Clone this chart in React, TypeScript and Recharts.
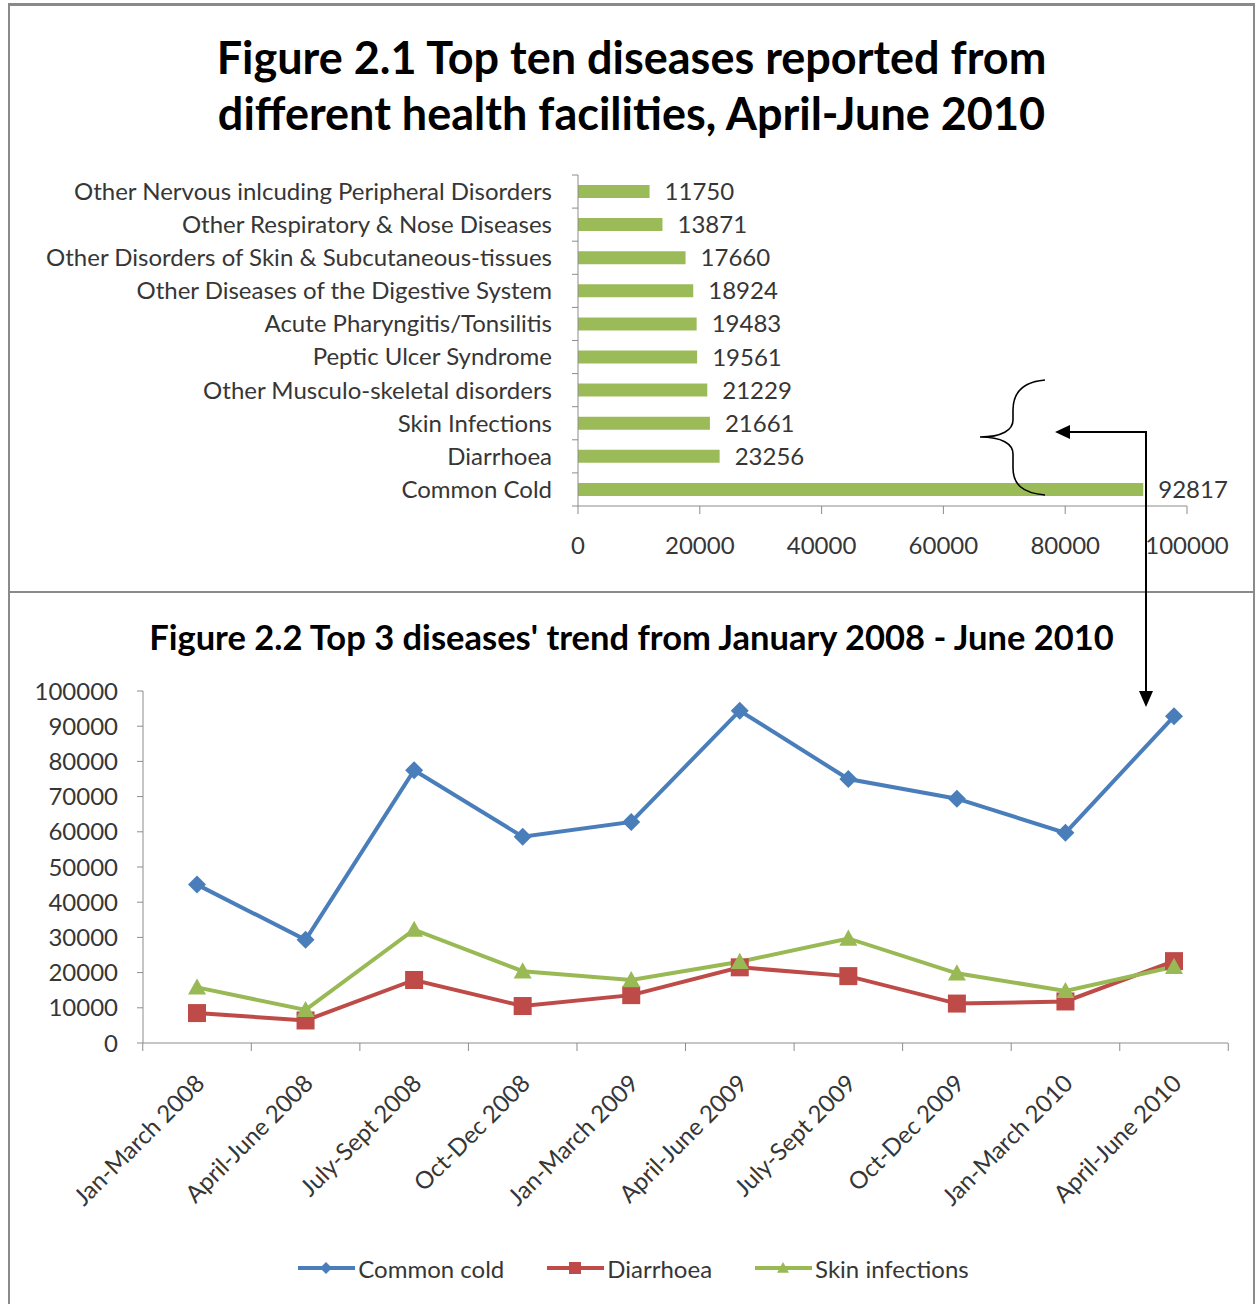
import React from 'react';
import {
  BarChart,
  Bar,
  XAxis,
  YAxis,
  LabelList,
  LineChart,
  Line,
  Legend,
} from 'recharts';

// Figure 2.1 - cases reported April-June 2010
const diseases = [
  'Other Nervous inlcuding Peripheral Disorders',
  'Other Respiratory & Nose Diseases',
  'Other Disorders of Skin & Subcutaneous-tissues',
  'Other Diseases of the Digestive System',
  'Acute Pharyngitis/Tonsilitis',
  'Peptic Ulcer Syndrome',
  'Other Musculo-skeletal disorders',
  'Skin Infections',
  'Diarrhoea',
  'Common Cold',
];
const cases = [11750, 13871, 17660, 18924, 19483, 19561, 21229, 21661, 23256, 92817];
const caseTicks = [0, 20000, 40000, 60000, 80000, 100000];

// Figure 2.2 - quarterly trend of the top 3
const quarters = [
  'Jan-March 2008',
  'April-June 2008',
  'July-Sept 2008',
  'Oct-Dec 2008',
  'Jan-March 2009',
  'April-June 2009',
  'July-Sept 2009',
  'Oct-Dec 2009',
  'Jan-March 2010',
  'April-June 2010',
];
const commonCold = [45000, 29300, 77500, 58600, 62800, 94400, 75000, 69400, 59700, 92817];
const diarrhoea = [8500, 6400, 17900, 10500, 13600, 21500, 19000, 11200, 11800, 23256];
const skinInfections = [15800, 9400, 32200, 20400, 17900, 23100, 29700, 19800, 14800, 21661];
const trendTicks = [0, 10000, 20000, 30000, 40000, 50000, 60000, 70000, 80000, 90000, 100000];

const topData = diseases.map((name, i) => ({ name, cases: cases[i] }));
const trendData = quarters.map((quarter, i) => ({
  quarter,
  cold: commonCold[i],
  diarrhoea: diarrhoea[i],
  skin: skinInfections[i],
}));

const FONT = 'Lato, "Open Sans", sans-serif';
const TEXT = '#363636';
const AXIS = '#8c8c8c';
const FRAME = '#8a8a8a';
const BLUE = '#4a7ebb';
const RED = '#be4b48';
const GREEN = '#98b954';
const BAR_GREEN = '#9bbb59';
const FS = 24;

const BAR_BAND = 33.1;
const QUARTER_BAND = 108.5;

type Shape = 'diamond' | 'square' | 'triangle';

const Marker = ({ cx, cy, shape, color, r }: { cx: number; cy: number; shape: Shape; color: string; r: number }) => {
  if (shape === 'diamond') {
    return <path d={`M${cx},${cy - r} L${cx + r},${cy} L${cx},${cy + r} L${cx - r},${cy} Z`} fill={color} />;
  }
  if (shape === 'square') {
    return <rect x={cx - r} y={cy - r} width={r * 2} height={r * 2} fill={color} />;
  }
  return <path d={`M${cx},${cy - r} L${cx + r},${cy + r * 0.8} L${cx - r},${cy + r * 0.8} Z`} fill={color} />;
};

const series: { key: string; name: string; color: string; shape: Shape }[] = [
  { key: 'cold', name: 'Common cold', color: BLUE, shape: 'diamond' },
  { key: 'diarrhoea', name: 'Diarrhoea', color: RED, shape: 'square' },
  { key: 'skin', name: 'Skin infections', color: GREEN, shape: 'triangle' },
];

const DiseaseTick = (props: any) => {
  const { x, y, payload, index } = props;
  const half = BAR_BAND / 2;
  return (
    <g>
      <line x1={x - 6} y1={y - half} x2={x} y2={y - half} stroke={AXIS} />
      {index === diseases.length - 1 && <line x1={x - 6} y1={y + half} x2={x} y2={y + half} stroke={AXIS} />}
      <text x={x - 26} y={y} dy="0.35em" textAnchor="end" fill={TEXT} fontSize={FS} fontFamily={FONT}>
        {payload.value}
      </text>
    </g>
  );
};

const QuarterTick = (props: any) => {
  const { x, y, payload, index } = props;
  const half = QUARTER_BAND / 2;
  const tx = x + 9;
  const ty = y + 42;
  return (
    <g>
      <line x1={x - half} y1={y} x2={x - half} y2={y + 8} stroke={AXIS} />
      {index === quarters.length - 1 && <line x1={x + half} y1={y} x2={x + half} y2={y + 8} stroke={AXIS} />}
      <text
        x={tx}
        y={ty}
        transform={`rotate(-45, ${tx}, ${ty})`}
        textAnchor="end"
        fill={TEXT}
        fontSize={FS}
        fontFamily={FONT}
      >
        {payload.value}
      </text>
    </g>
  );
};

const dotFor = (shape: Shape, color: string) => (props: any) => {
  const { cx, cy, index } = props;
  return <Marker key={`${shape}-${index}`} cx={cx} cy={cy} shape={shape} color={color} r={9} />;
};

const TrendLegend = () => (
  <div
    style={{
      display: 'flex',
      justifyContent: 'center',
      alignItems: 'center',
      gap: 43,
      fontFamily: FONT,
      fontSize: FS,
      color: TEXT,
      height: 30,
      paddingLeft: 10,
    }}
  >
    {series.map((s) => (
      <div key={s.key} style={{ display: 'flex', alignItems: 'center' }}>
        <svg width={57} height={20}>
          <line x1={0} y1={10} x2={57} y2={10} stroke={s.color} strokeWidth={4} />
          <Marker cx={28} cy={10} shape={s.shape} color={s.color} r={6} />
        </svg>
        <span style={{ marginLeft: 3 }}>{s.name}</span>
      </div>
    ))}
  </div>
);

const titleStyle: React.CSSProperties = {
  position: 'absolute',
  left: 0,
  width: 1263,
  textAlign: 'center',
  fontFamily: FONT,
  fontWeight: 700,
  color: '#000',
};

export default function App() {
  return (
    <div
      style={{
        position: 'absolute',
        left: 0,
        top: 0,
        width: 1257,
        height: 1304,
        overflow: 'hidden',
        background: '#fff',
      }}
    >
      {/* outer frame and divider */}
      <div
        style={{
          position: 'absolute',
          left: 8,
          top: 3,
          width: 1247,
          height: 1301,
          borderTop: `3px solid ${FRAME}`,
          borderLeft: `2px solid ${FRAME}`,
          borderRight: `2px solid ${FRAME}`,
          boxSizing: 'border-box',
        }}
      />
      <div style={{ position: 'absolute', left: 8, top: 591, width: 1247, height: 2, background: FRAME }} />

      <div style={{ ...titleStyle, top: 29, fontSize: 45, lineHeight: '56px' }}>
        Figure 2.1 Top ten diseases reported from
        <br />
        different health facilities, April-June 2010
      </div>

      <div style={{ position: 'absolute', left: 0, top: 0 }}>
        <BarChart
          width={1257}
          height={590}
          layout="vertical"
          data={topData}
          margin={{ top: 175, right: 70, bottom: 34, left: 0 }}
          barSize={13}
        >
          <XAxis
            type="number"
            domain={[0, 100000]}
            ticks={caseTicks}
            height={50}
            stroke={AXIS}
            tickSize={8}
            tickMargin={23}
            tick={{ fill: TEXT, fontSize: FS, fontFamily: FONT }}
          />
          <YAxis
            type="category"
            dataKey="name"
            width={578}
            stroke={AXIS}
            tickSize={0}
            tickMargin={0}
            interval={0}
            tick={DiseaseTick}
          />
          <Bar dataKey="cases" fill={BAR_GREEN} isAnimationActive={false}>
            <LabelList dataKey="cases" position="right" offset={15} fill={TEXT} fontSize={FS} fontFamily={FONT} />
          </Bar>
        </BarChart>
      </div>

      <div style={{ ...titleStyle, top: 617, fontSize: 34.5, lineHeight: '40px' }}>
        Figure 2.2 Top 3 diseases' trend from January 2008 - June 2010
      </div>

      <div style={{ position: 'absolute', left: 0, top: 592 }}>
        <LineChart
          width={1257}
          height={700}
          data={trendData}
          margin={{ top: 99, right: 29, bottom: 69, left: 0 }}
        >
          <XAxis
            dataKey="quarter"
            height={180}
            padding={{ left: 54, right: 54 }}
            stroke={AXIS}
            tickSize={0}
            tickMargin={0}
            interval={0}
            tick={QuarterTick}
          />
          <YAxis
            domain={[0, 100000]}
            ticks={trendTicks}
            width={143}
            stroke={AXIS}
            tickSize={6}
            tickMargin={19}
            interval={0}
            tick={{ fill: TEXT, fontSize: FS, fontFamily: FONT }}
          />
          {series.map((s) => (
            <Line
              key={s.key}
              dataKey={s.key}
              name={s.name}
              stroke={s.color}
              strokeWidth={4}
              dot={dotFor(s.shape, s.color)}
              activeDot={false}
              isAnimationActive={false}
            />
          ))}
          <Legend
            verticalAlign="middle"
            align="center"
            content={TrendLegend}
            wrapperStyle={{ top: 661, left: 0, width: 1257 }}
          />
        </LineChart>
      </div>

      {/* brace and arrow linking the Common Cold bar to its latest point */}
      <svg
        width={1257}
        height={1304}
        style={{ position: 'absolute', left: 0, top: 0, pointerEvents: 'none' }}
      >
        <path
          d="M1045,380 C1022,382 1013,394 1013,410 L1013,420 C1013,430 1002,437 980,437 C1002,437 1013,444 1013,454 L1013,468 C1013,484 1022,493 1045,495"
          fill="none"
          stroke="#000"
          strokeWidth={1.6}
        />
        <polyline points="1069,432 1146,432 1146,692" fill="none" stroke="#000" strokeWidth={2} />
        <path d="M1055,432 L1070,425 L1070,439 Z" fill="#000" />
        <path d="M1146,707 L1139,691 L1153,691 Z" fill="#000" />
      </svg>
    </div>
  );
}
